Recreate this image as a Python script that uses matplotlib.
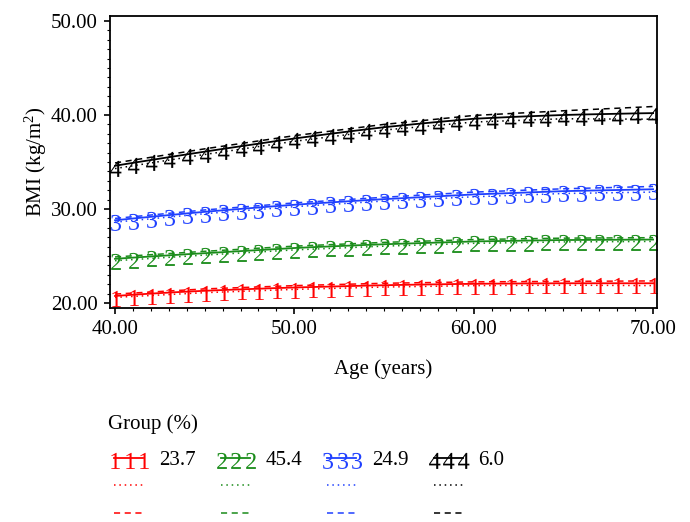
import matplotlib
matplotlib.use('Agg')
import matplotlib.pyplot as plt
from matplotlib.ticker import MultipleLocator, FormatStrFormatter
from matplotlib.textpath import TextPath
from matplotlib.font_manager import FontProperties
from matplotlib.path import Path

plt.rcParams['font.family'] = ['Liberation Serif', 'DejaVu Serif']
plt.rcParams['font.size'] = 15
plt.rcParams['mathtext.fontset'] = 'custom'
plt.rcParams['mathtext.rm'] = 'Liberation Serif'
plt.rcParams['mathtext.it'] = 'Liberation Serif:italic'

# ages with a marker every year
age = list(range(40, 71))
# ages for the dotted / dashed curves
age_ci = [40, 45, 50, 55, 60, 65, 70]

g1 = [20.75, 20.88, 21.00, 21.11, 21.21, 21.30, 21.38, 21.45, 21.52, 21.59, 21.65,
      21.70, 21.75, 21.80, 21.85, 21.89, 21.93, 21.96, 21.99, 22.02, 22.04,
      22.06, 22.07, 22.08, 22.09, 22.10, 22.10, 22.10, 22.10, 22.10, 22.10]
g2 = [24.70, 24.83, 24.95, 25.07, 25.19, 25.30, 25.41, 25.52, 25.63, 25.74, 25.85,
      25.94, 26.02, 26.10, 26.18, 26.25, 26.31, 26.37, 26.43, 26.49, 26.55,
      26.58, 26.61, 26.64, 26.67, 26.70, 26.71, 26.72, 26.73, 26.74, 26.75]
g3 = [28.80, 28.99, 29.17, 29.35, 29.53, 29.70, 29.86, 30.01, 30.16, 30.31, 30.45,
      30.58, 30.70, 30.82, 30.94, 31.05, 31.15, 31.25, 31.35, 31.45, 31.55,
      31.62, 31.69, 31.76, 31.83, 31.90, 31.94, 31.98, 32.02, 32.06, 32.10]
g4 = [34.60, 34.91, 35.21, 35.51, 35.81, 36.10, 36.39, 36.67, 36.95, 37.23, 37.50,
      37.75, 38.00, 38.24, 38.47, 38.70, 38.89, 39.08, 39.26, 39.43, 39.60,
      39.69, 39.78, 39.86, 39.93, 40.00, 40.05, 40.09, 40.13, 40.17, 40.20]

g1_hi = [20.95, 21.50, 21.85, 22.10, 22.25, 22.30, 22.35]
g1_lo = [20.60, 21.10, 21.45, 21.70, 21.85, 21.90, 21.85]
g2_hi = [24.90, 25.50, 26.05, 26.45, 26.75, 26.90, 26.95]
g2_lo = [24.50, 25.10, 25.65, 26.05, 26.35, 26.50, 26.55]
g3_hi = [29.00, 29.90, 30.65, 31.25, 31.80, 32.15, 32.40]
g3_lo = [28.60, 29.50, 30.25, 30.85, 31.30, 31.65, 31.80]
g4_hi = [34.90, 36.40, 37.80, 39.00, 39.95, 40.45, 40.90]
g4_lo = [34.30, 35.80, 37.20, 38.40, 39.25, 39.60, 39.55]

pct = ['23.7', '45.4', '24.9', '6.0']
colors = ['#ff0000', '#1a8c1a', '#1f40ff', '#000000']


def digit_marker(ch):
    # glyph hangs below the line: line crosses it near the top
    tp = TextPath((0, 0), ch, prop=FontProperties(family='Liberation Serif'))
    v = tp.vertices.copy()
    x0, x1 = v[:, 0].min(), v[:, 0].max()
    y0, y1 = v[:, 1].min(), v[:, 1].max()
    h = y1 - y0
    v[:, 0] -= (x0 + x1) / 2
    v[:, 1] -= y1 - 0.35 * h
    return Path(v, tp.codes)


fig = plt.figure(figsize=(6.9, 5.22), dpi=100)
ax = fig.add_axes([110/690, 1 - 308/522, 547/690, 292/522])

groups = [(g1, g1_lo, g1_hi), (g2, g2_lo, g2_hi), (g3, g3_lo, g3_hi), (g4, g4_lo, g4_hi)]
handles = []
labels = []
for i, (mid, lo, hi) in enumerate(groups):
    c = colors[i]
    l1, = ax.plot(age, mid, color=c, lw=1.3, marker=digit_marker(str(i + 1)),
                  markersize=15, markeredgewidth=0)
    l2, = ax.plot(age_ci, lo, color=c, lw=1.1, linestyle=(0, (1, 2.5)))
    l3, = ax.plot(age_ci, hi, color=c, lw=1.1, linestyle=(0, (4, 3)))
    handles += [l1, l2, l3]
    labels += [pct[i], '', '']

ax.set_xlim(39.72, 70.22)
ax.set_ylim(19.47, 50.53)
ax.xaxis.set_major_locator(MultipleLocator(10))
ax.xaxis.set_minor_locator(MultipleLocator(1))
ax.yaxis.set_major_locator(MultipleLocator(10))
ax.yaxis.set_minor_locator(MultipleLocator(1))
ax.xaxis.set_major_formatter(FormatStrFormatter('%.2f'))
ax.yaxis.set_major_formatter(FormatStrFormatter('%.2f'))
ax.tick_params(which='major', direction='out', length=4, width=1.2, pad=5)
ax.tick_params(which='minor', direction='out', length=2, width=0.8)
for s in ax.spines.values():
    s.set_linewidth(1.3)

ax.set_xlabel('Age (years)', labelpad=14)
ax.set_ylabel('BMI (kg/m$^2$)', labelpad=1)

leg = fig.legend(handles, labels, ncol=4, loc='upper left',
                 bbox_to_anchor=(108/690, 1 - 414/522), frameon=False,
                 borderpad=0, borderaxespad=0,
                 title='Group (%)', alignment='left', numpoints=3,
                 handlelength=2.0, handletextpad=0.45, columnspacing=0.9,
                 labelspacing=0.38, fontsize=15, title_fontsize=15)
leg._legend_box.sep = 12

plt.savefig('out.png', dpi=100)
